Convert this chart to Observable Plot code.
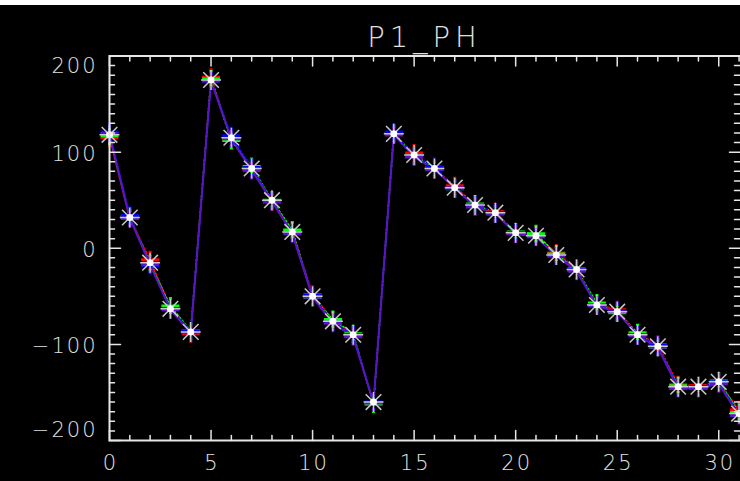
<!DOCTYPE html>
<html><head><meta charset="utf-8">
<script src="https://cdn.jsdelivr.net/npm/d3@7"></script>
<script src="https://cdn.jsdelivr.net/npm/@observablehq/plot@0.6"></script>
<style>
html,body{margin:0;padding:0;background:#000;overflow:hidden;width:740px;height:481px;}
#band{height:5px;background:#fff;}
#chart{width:740px;overflow:hidden;}
#chart svg{max-width:none !important;}
#chart svg text{letter-spacing:2px;}
#chart svg .ttl text{letter-spacing:5px;}
</style></head><body><div id="band"></div><div id="chart"></div>
<script>
const title = "P1_PH";
const xValues = [0,1,2,3,4,5,6,7,8,9,10,11,12,13,14,15,16,17,18,19,20,21,22,23,24,25,26,27,28,29,30,31];
const whiteVals  = [118,32,-15,-63,-87,175,115,83,50,17,-50,-76,-90,-160,119,97,83,63,45,37,16,13,-7,-22,-59,-66,-90,-102,-144,-144,-139,-172];
const redVals    = [115,31,-12,-62,-89,178,113,82,48,18,-48,-75,-91,-161,118,99,82,65,44,38,15,14,-5,-21,-58,-64,-89,-100,-142,-143,-140,-168];
const greenVals  = [117,33,-16,-60,-86,176,112,85,50,19,-51,-74,-89,-162,120,96,84,62,46,36,17,15,-6,-23,-57,-67,-88,-103,-143,-145,-138,-171];
const blueVals   = [121,34,-18,-63,-86,174,117,84,49,16,-49,-77,-90,-160,121,96,85,62,45,37,16,12,-8,-22,-59,-65,-90,-101,-145,-144,-139,-173];
const purpleVals = [119,31,-17,-64,-88,174,114,81,49,15,-51,-78,-92,-161,118,95,82,63,43,36,15,12,-8,-24,-60,-66,-91,-103,-146,-146,-141,-174];
const xMajor = [0,5,10,15,20,25,30];
const yMajor = [-200,-100,0,100,200];
const xLabels = ["0","5","10","15","20","25","30"];
const yLabelsMid = [100,0,-100];

const seriesColors = {red:"#ff0000", green:"#00ff00", blue:"#0000ff", purple:"#5a14c8"};
const rows = (name, vals) => xValues.map((x,i) => ({series:name, x, y:vals[i]}));
const red = rows("red", redVals), green = rows("green", greenVals), blue = rows("blue", blueVals),
      purple = rows("purple", purpleVals), white = rows("white", whiteVals);

const asterisk = {draw(ctx, size){
  const r = Math.sqrt(size/Math.PI), d = r*0.78;
  ctx.moveTo(-r,0); ctx.lineTo(r,0);
  ctx.moveTo(0,-r); ctx.lineTo(0,r);
  ctx.moveTo(-d,-d); ctx.lineTo(d,d);
  ctx.moveTo(-d,d); ctx.lineTo(d,-d);
}};
const hbar = {draw(ctx, size){
  const r = Math.sqrt(size/Math.PI);
  ctx.moveTo(-r,0); ctx.lineTo(r,0);
  ctx.moveTo(0,-r); ctx.lineTo(0,-r*0.6);
  ctx.moveTo(0,r); ctx.lineTo(0,r*0.6);
}};
const tickShape = {draw(ctx, l){ ctx.moveTo(0,0); ctx.lineTo(0,-l); }};

const xMinor = d3.range(0,32).filter(v => v % 5 !== 0);
const yMinor = d3.range(-200,201,10).filter(v => v % 100 !== 0);
const tc = "#e6e6e6";
const tk = {anchor:"start", shape:tickShape, stroke:tc, strokeWidth:1.5};
const tickMarks = [
  Plot.vector(xMinor, {x:d=>d, frameAnchor:"bottom", length:5, rotate:0, ...tk}),
  Plot.vector(xMajor, {x:d=>d, frameAnchor:"bottom", length:10, rotate:0, ...tk}),
  Plot.vector(xMinor, {x:d=>d, frameAnchor:"top", length:5, rotate:180, ...tk}),
  Plot.vector(xMajor, {x:d=>d, frameAnchor:"top", length:10, rotate:180, ...tk}),
  Plot.vector(yMinor, {y:d=>d, frameAnchor:"left", length:5, rotate:90, ...tk}),
  Plot.vector(yMajor, {y:d=>d, frameAnchor:"left", length:11, rotate:90, ...tk}),
  Plot.vector(yMinor, {y:d=>d, frameAnchor:"right", length:7, rotate:-90, ...tk}),
  Plot.vector(yMajor, {y:d=>d, frameAnchor:"right", length:12, rotate:-90, ...tk})
];

const font = {fontFamily:"DejaVu Sans", fontWeight:300, fill:"#e0e0e0"};
const plot = Plot.plot({
  width:742, height:476,
  marginTop:50.5, marginBottom:41, marginLeft:109, marginRight:1,
  style:{background:"#000", color:"#fff"},
  x:{domain:[0,31.12], axis:null},
  y:{domain:[-200,200], axis:null},
  marks:[
    Plot.line(red, {x:"x", y:"y", stroke:seriesColors.red, strokeWidth:1.6, strokeDasharray:"1.5 2.5"}),
    Plot.line(green, {x:"x", y:"y", stroke:seriesColors.green, strokeWidth:1.6, strokeDasharray:"1.5 2.5"}),
    Plot.line(blue, {x:"x", y:"y", stroke:seriesColors.blue, strokeWidth:1.6, strokeDasharray:"1.5 2.5"}),
    Plot.line(purple, {x:"x", y:"y", stroke:seriesColors.purple, strokeWidth:2}),
    Plot.dot(red, {x:"x", y:"y", symbol:hbar, r:9, fill:"none", stroke:seriesColors.red, strokeWidth:3}),
    Plot.dot(green, {x:"x", y:"y", symbol:hbar, r:9, fill:"none", stroke:seriesColors.green, strokeWidth:3}),
    Plot.dot(blue, {x:"x", y:"y", symbol:hbar, r:9, fill:"none", stroke:seriesColors.blue, strokeWidth:3}),
    Plot.dot(purple, {x:"x", y:"y", symbol:hbar, r:9, fill:"none", stroke:seriesColors.purple, strokeWidth:3}),
    Plot.dot(white, {x:"x", y:"y", symbol:asterisk, r:10, fill:"none", stroke:"#c8c8c8", strokeWidth:1.5}),
    Plot.dot(white, {x:"x", y:"y", r:3.5, fill:"#ffffff", stroke:"none"}),
    Plot.frame({stroke:tc, strokeWidth:2}),
    ...tickMarks,
    Plot.text(xMajor, {x:d=>d, text:(d,i)=>xLabels[i], frameAnchor:"bottom", dy:29, dx:1, fontSize:21, ...font}),
    Plot.text(yLabelsMid, {y:d=>d, text:d=>String(d).replace("-","\u2212"), frameAnchor:"left", textAnchor:"end", dx:-12, dy:2, fontSize:21, ...font}),
    Plot.text([200], {y:d=>d, text:d=>String(d), frameAnchor:"left", textAnchor:"end", dx:-12, dy:10, fontSize:21, ...font}),
    Plot.text([-200], {y:d=>d, text:d=>"\u2212" + String(-d), frameAnchor:"left", textAnchor:"end", dx:-12, dy:-10, fontSize:21, ...font}),
    Plot.text([title], {frameAnchor:"top", dy:-30, dx:-1, fontSize:29, className:"ttl", ...font})
  ]
});
document.getElementById("chart").appendChild(plot);
</script></body></html>
